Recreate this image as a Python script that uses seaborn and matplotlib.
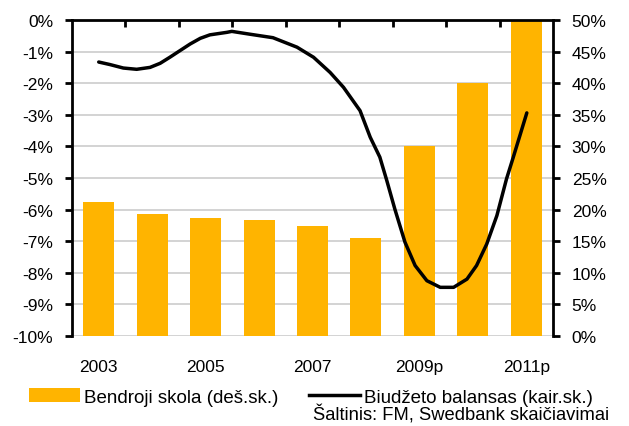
import numpy as np
import pandas as pd
import matplotlib
matplotlib.use("Agg")
import matplotlib.pyplot as plt
import seaborn as sns
from matplotlib.patches import Patch
from matplotlib.lines import Line2D

plt.rcParams['font.family'] = ['Liberation Sans', 'DejaVu Sans']

# ---- data ----
years = ['2003', '2004', '2005', '2006', '2007', '2008', '2009p', '2010p', '2011p']
debt = [21.2, 19.3, 18.7, 18.4, 17.4, 15.5, 30.0, 40.0, 50.0]  # % of GDP (right axis)

# budget balance (left axis), position in category units (0 = 2003)
balance_x = [0.0, 0.21, 0.46, 0.71, 0.96, 1.15, 1.33, 1.52, 1.71, 1.90, 2.08, 2.40,
             2.49, 2.83, 3.26, 3.71, 4.02, 4.33, 4.58, 4.89, 5.08, 5.26, 5.39, 5.54,
             5.73, 5.92, 6.14, 6.39, 6.64, 6.89, 7.07, 7.26, 7.45, 7.63, 7.75, 7.88, 8.01]
balance_y = [-1.33, -1.41, -1.52, -1.56, -1.50, -1.37, -1.18, -0.97, -0.76, -0.58, -0.47, -0.39,
             -0.36, -0.45, -0.56, -0.86, -1.18, -1.66, -2.13, -2.87, -3.71, -4.34, -5.08, -5.98,
             -7.03, -7.77, -8.25, -8.46, -8.46, -8.20, -7.77, -7.09, -6.19, -5.03, -4.38, -3.66,
             -2.94]

left_ticks = list(range(-10, 1))
right_ticks = list(range(0, 51, 5))
label_idx = [0, 2, 4, 6, 8]

BAR = '#FFB400'
FS = 12.5
FS_LEG = 13.5

fig = plt.figure(figsize=(6.29, 4.27), dpi=100)
ax = fig.add_axes([72 / 629, 1 - 337 / 427, 481 / 629, 316 / 427])
ax2 = ax.twinx()

df = pd.DataFrame({'pos': range(len(years)), 'debt': debt})
sns.barplot(data=df, x='pos', y='debt', ax=ax, color=BAR, saturation=1,
            width=0.58, errorbar=None, zorder=2)

sns.lineplot(x=balance_x, y=balance_y, ax=ax2, color='black', linewidth=2.5,
             solid_joinstyle='round', solid_capstyle='round')

# x axis
ax.set_xlim(-0.5, 8.5)
ax.set_xticks(label_idx, labels=[years[i] for i in label_idx])
ax.set_xticks(np.arange(0.5, 8, 1), minor=True)
ax.tick_params(axis='x', which='major', length=0, pad=16.5, labelsize=FS)
ax.tick_params(axis='x', which='minor', top=True, bottom=False, direction='in',
               length=5, width=2, color='black')
ax.set_xlabel('')

# right axis (debt)
ax.set_ylim(0, 50)
ax.set_yticks(right_ticks, labels=[f'{v}%' for v in right_ticks])
ax.yaxis.tick_right()
ax.tick_params(axis='y', right=True, left=False, direction='out', length=5, width=2,
               pad=8.5, labelsize=FS)
ax.set_ylabel('')
ax.yaxis.grid(True, color='#c8c8c8', linewidth=1.1)
ax.xaxis.grid(False)
ax.set_axisbelow(True)

# left axis (balance)
ax2.set_ylim(-10, 0)
ax2.set_yticks(left_ticks, labels=[f'{v}%' for v in left_ticks])
ax2.yaxis.tick_left()
ax2.tick_params(axis='y', left=True, right=False, direction='out', length=5, width=2,
                pad=8.5, labelsize=FS)
ax2.set_ylabel('')
ax2.set_xlabel('')

for s in ['top', 'left', 'right']:
    ax.spines[s].set_visible(True)
    ax.spines[s].set_color('black')
    ax.spines[s].set_linewidth(2)
ax.spines['bottom'].set_visible(False)
for s in ax2.spines.values():
    s.set_visible(False)

handles = [Patch(facecolor=BAR, edgecolor='none'),
           Line2D([], [], color='black', linewidth=2.5)]
fig.legend(handles, ['Bendroji skola (deš.sk.)', 'Biudžeto balansas (kair.sk.)'],
           loc='center left', bbox_to_anchor=(29 / 629, 1 - 398 / 427), ncol=2,
           frameon=False, handlelength=2.72, handleheight=0.7, handletextpad=0.22,
           columnspacing=1.6, borderpad=0, borderaxespad=0, fontsize=FS_LEG)
fig.text(313 / 629, 2 / 427, 'Šaltinis: FM, Swedbank skaičiavimai',
         ha='left', va='bottom', fontsize=13.2)

fig.savefig('out.png', dpi=100)
